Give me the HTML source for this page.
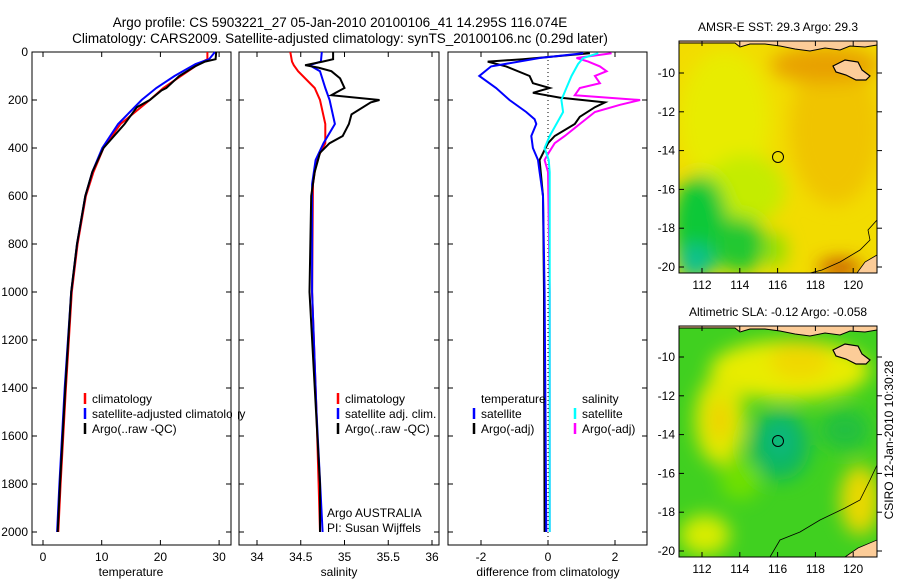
<!DOCTYPE html>
<html><head><meta charset="utf-8">
<style>
html,body{margin:0;padding:0;background:#fff;}
svg{display:block;font-family:"Liberation Sans",sans-serif;}
</style></head>
<body>
<svg id="fig" width="900" height="580" viewBox="0 0 900 580" xmlns="http://www.w3.org/2000/svg">
<defs>
<filter id="blur6" x="-50%" y="-50%" width="200%" height="200%"><feGaussianBlur stdDeviation="9"/></filter>
<clipPath id="clipMap1"><rect x="679" y="41" width="198" height="232"/></clipPath>
<clipPath id="clipMap2"><rect x="679" y="326" width="198" height="231"/></clipPath>
</defs>
<text x="340" y="27" font-size="13.5" text-anchor="middle">Argo profile: CS 5903221_27 05-Jan-2010 20100106_41 14.295S 116.074E</text>
<text x="340" y="43" font-size="13.5" text-anchor="middle">Climatology: CARS2009. Satellite-adjusted climatology: synTS_20100106.nc (0.29d later)</text>

<!-- map 1 -->
<g>
<g clip-path="url(#clipMap1)">
<rect x="679" y="41" width="198" height="232" fill="#f2dc00"/>
<g filter="url(#blur6)">
<ellipse cx="725" cy="120" rx="45" ry="70" fill="#e8ec00"/>
<ellipse cx="835" cy="130" rx="45" ry="75" fill="#f0c400"/>
<ellipse cx="825" cy="65" rx="55" ry="18" fill="#e8a000"/>
<ellipse cx="745" cy="190" rx="40" ry="35" fill="#c4ec00"/>
<ellipse cx="700" cy="225" rx="28" ry="50" fill="#10c838"/>
<ellipse cx="740" cy="245" rx="25" ry="28" fill="#20c830"/>
<ellipse cx="695" cy="262" rx="18" ry="18" fill="#10c090"/>
<ellipse cx="775" cy="250" rx="12" ry="18" fill="#90e000"/>
<ellipse cx="840" cy="268" rx="22" ry="8" fill="#c04000"/>
</g>
<path d="M679,41 L877,41 L877,45 L865,47 L850,46 L840,50 L825,48 L810,51 L795,49 L780,46 L765,44 L750,44 L740,47 L735,43 L679,43Z" fill="#fccc98" stroke="#000" stroke-width="1"/>
<path d="M833,66 L845,60 L858,62 L862,70 L870,76 L866,80 L856,80 L846,75 L836,72Z" fill="#fccc98" stroke="#000" stroke-width="1.2"/>
<path d="M877,220 L868,230 L870,240 L860,250 L840,262 L822,270 L810,273" fill="none" stroke="#000" stroke-width="0.8"/>
<path d="M857,273 L865,262 L877,255 L877,273Z" fill="#fccc98" stroke="#000" stroke-width="0.8"/>
</g>
<rect x="679" y="41" width="198" height="232" fill="none" stroke="#000" stroke-width="1"/>
<circle cx="778" cy="157" r="5.5" fill="none" stroke="#000" stroke-width="1"/>
<text x="778" y="31" font-size="12" text-anchor="middle">AMSR-E SST: 29.3 Argo: 29.3</text>
<g id="map1ticks"></g>
</g>

<!-- map 2 -->
<g>
<g clip-path="url(#clipMap2)">
<rect x="679" y="326" width="198" height="231" fill="#40d020"/>
<g filter="url(#blur6)">
<ellipse cx="790" cy="370" rx="80" ry="30" fill="#e8ec00"/>
<ellipse cx="800" cy="360" rx="30" ry="20" fill="#f0d800"/>
<ellipse cx="720" cy="420" rx="25" ry="45" fill="#e0e800"/>
<ellipse cx="720" cy="420" rx="10" ry="20" fill="#f0d000"/>
<ellipse cx="860" cy="500" rx="20" ry="35" fill="#e8d800"/>
<ellipse cx="705" cy="535" rx="25" ry="20" fill="#d8ec00"/>
<ellipse cx="780" cy="445" rx="30" ry="35" fill="#10b860"/>
<ellipse cx="780" cy="440" rx="12" ry="18" fill="#10b880"/>
<ellipse cx="845" cy="430" rx="25" ry="20" fill="#20c040"/>
<ellipse cx="740" cy="480" rx="20" ry="20" fill="#70e000"/>
</g>
<path d="M679,326 L877,326 L877,330 L865,332 L850,331 L840,335 L825,333 L810,336 L795,334 L780,331 L765,329 L750,329 L740,332 L735,328 L679,328Z" fill="#fccc98" stroke="#000" stroke-width="1"/>
<path d="M833,350 L845,344 L858,346 L862,354 L870,360 L866,364 L856,364 L846,359 L836,356Z" fill="#fccc98" stroke="#000" stroke-width="1.2"/>
<path d="M877,465 L870,480 L860,500 L845,508 L820,520 L800,532 L780,540 L770,557" fill="none" stroke="#000" stroke-width="0.8"/>
<path d="M845,557 L858,548 L877,540 L877,557Z" fill="#fccc98" stroke="#000" stroke-width="0.8"/>
</g>
<rect x="679" y="326" width="198" height="231" fill="none" stroke="#000" stroke-width="1"/>
<circle cx="778" cy="441" r="5.5" fill="none" stroke="#000" stroke-width="1"/>
<text x="778" y="316" font-size="12" text-anchor="middle">Altimetric SLA: -0.12 Argo: -0.058</text>
<g id="map2ticks"></g>
</g>
<text transform="translate(893,440) rotate(-90)" font-size="12" text-anchor="middle">CSIRO 12-Jan-2010 10:30:28</text>

<g id="panels"></g>
</svg>
<script>
// ---- data ----
var depthTicks=[0,200,400,600,800,1000,1200,1400,1600,1800,2000];
var tempTicks=[0,10,20,30];
var salTicks=[34,34.5,35,35.5,36];
var salTickLabels=["34","34.5","35","35.5","36"];
var diffTicks=[-2,0,2];
var tempClimDepth=[0,30,50,100,150,200,300,400,500,600,800,1000,1400,1800,2000];
var tempClim=[28,28,26.5,23.5,20.5,18.2,13.2,10.3,8.6,7.3,5.9,4.9,3.9,3.0,2.6];
var tempSatDepth=[0,30,50,100,150,200,300,400,500,600,800,1000,1400,1800,2000];
var tempSat=[29.3,28.3,26,22.4,19.3,16.8,12.8,10.1,8.4,7.2,5.8,4.8,3.7,2.8,2.4];
var tempArgoDepth=[0,30,40,60,100,150,160,200,230,300,400,500,600,800,1000,1400,1800,2000];
var tempArgo=[29.5,29.4,27.6,25.9,23.2,21,20.2,18.2,16,13.9,10.3,8.4,7.2,5.8,4.8,3.8,2.9,2.5];
var salDepth=[0,40,55,80,150,200,300,380,450,550,1000,1500,2000];
var salClim=[34.38,34.40,34.42,34.47,34.66,34.72,34.78,34.78,34.68,34.64,34.63,34.68,34.72];
var salSat=[34.74,34.73,34.60,34.72,34.78,34.83,34.89,34.76,34.67,34.63,34.63,34.68,34.75];
var salArgoDepth=[0,30,40,55,65,80,110,150,170,180,200,210,260,300,350,380,420,500,600,1000,1800,2000];
var salArgo=[34.87,34.87,34.75,34.55,34.7,34.85,34.95,35.0,34.9,34.85,35.4,35.3,35.08,35.05,34.98,34.83,34.72,34.66,34.62,34.6,34.72,34.72];
var dTDepth=[5,25,60,100,150,200,250,280,300,350,400,450,500,600,1000,2000];
var dTSat=[1.05,-0.25,-1.7,-2.05,-1.55,-1.15,-0.65,-0.4,-0.35,-0.5,-0.45,-0.3,-0.25,-0.15,-0.1,-0.05];
var dTArgoDepth=[5,30,40,60,100,130,150,170,190,210,230,270,300,350,380,450,600,1000,2000];
var dTArgo=[1.25,-0.75,-1.8,-1.25,-0.55,-0.45,0.05,-0.45,0.35,1.7,1.4,0.95,0.8,0.2,0,-0.25,-0.15,-0.12,-0.1];
var dSDepth=[5,25,50,100,150,200,250,300,350,400,450,500,1000,2000];
var dSSat=[1.5,1.05,0.9,0.7,0.55,0.4,0.45,0.25,0.05,-0.1,0.02,0.05,0.05,0.05];
var dSArgoDepth=[5,25,40,60,80,100,130,150,180,200,220,250,300,350,380,420,450,500,1000,2000];
var dSArgo=[1.9,0.85,1.2,1.55,1.75,1.4,1.55,0.95,0.8,2.75,2.15,1.4,0.95,0.5,0.2,0.02,-0.1,0,0.05,0.05];
var lonTicks=[112,114,116,118,120];
var latTicks=[10,12,14,16,18,20];

// ---- scales ----
function yD(d){return 52+0.24*d;}
function xT(t){return 43+5.87*t;}
function xS(s){return 257+87.5*(s-34);}
function xDf(v){return 548+33.5*v;}
var NS="http://www.w3.org/2000/svg";
var root=document.getElementById('panels');
function mk(tag,attrs,parent){var e=document.createElementNS(NS,tag);for(var k in attrs)e.setAttribute(k,attrs[k]);(parent||root).appendChild(e);return e;}
function line(depths,vals,xf,color,w,name){
  var pts=depths.map(function(d,i){return xf(vals[i]).toFixed(1)+','+yD(d).toFixed(1);}).join(' ');
  var p=mk('polyline',{points:pts,fill:'none',stroke:color,'stroke-width':w});
  
  
}
function txt(x,y,s,anchor,size,name){
  var t=mk('text',{x:x,y:y,'font-size':size||12,'text-anchor':anchor||'start'});
  t.textContent=s;
  
  
  return t;
}
var panels=[[32,231],[239,439],[448,647]];
panels.forEach(function(p,pi){
  var r=mk('rect',{x:p[0],y:52,width:p[1]-p[0],height:493,fill:'none',stroke:'#000','stroke-width':1});
  
  
  depthTicks.forEach(function(d){
    mk('line',{x1:p[0],x2:p[0]+5,y1:yD(d),y2:yD(d),stroke:'#000'});
    mk('line',{x1:p[1],x2:p[1]-5,y1:yD(d),y2:yD(d),stroke:'#000'});
  });
});
depthTicks.forEach(function(d){txt(28,yD(d)+4,String(d),'end',12,'depth-tick-label');});
function xticks(ticks,labels,xf,name){
  ticks.forEach(function(v,i){var x=xf(v);
    mk('line',{x1:x,x2:x,y1:545,y2:540,stroke:'#000'});
    mk('line',{x1:x,x2:x,y1:52,y2:57,stroke:'#000'});
    txt(x,561,labels[i],'middle',12,name);});
}
xticks(tempTicks,tempTicks.map(String),xT,'temperature-tick-label');
xticks(salTicks,salTickLabels,xS,'salinity-tick-label');
xticks(diffTicks,diffTicks.map(String),xDf,'difference-tick-label');
txt(131,576,'temperature','middle',12,'temperature-axis-title');
txt(339,576,'salinity','middle',12,'salinity-axis-title');
txt(548,576,'difference from climatology','middle',12,'difference-axis-title');
var zl=mk('line',{x1:548,x2:548,y1:52,y2:545,stroke:'#000','stroke-dasharray':'1,3'});


line(tempClimDepth,tempClim,xT,'#ff0000',2,'temperature-climatology-line');
line(tempSatDepth,tempSat,xT,'#0000ff',2,'temperature-satellite-line');
line(tempArgoDepth,tempArgo,xT,'#000',2,'temperature-argo-line');
line(salDepth,salClim,xS,'#ff0000',2,'salinity-climatology-line');
line(salDepth,salSat,xS,'#0000ff',2,'salinity-satellite-line');
line(salArgoDepth,salArgo,xS,'#000',2,'salinity-argo-line');
line(dTArgoDepth,dTArgo,xDf,'#000',2,'temp-argo-diff-line');
line(dTDepth,dTSat,xDf,'#0000ff',2,'temp-satellite-diff-line');
line(dSArgoDepth,dSArgo,xDf,'#ff00ff',2,'salinity-argo-diff-line');
line(dSDepth,dSSat,xDf,'#00ffff',2,'salinity-satellite-diff-line');
function leg(x,y,color,label){
  mk('line',{x1:x,x2:x,y1:y-10,y2:y+1,stroke:color,'stroke-width':2.5});
  txt(x+7,y,label,'start',12,'legend-entry');
}
leg(85,403,'#ff0000','climatology');
leg(85,418,'#0000ff','satellite-adjusted climatology');
leg(85,433,'#000','Argo(..raw -QC)');
mk('rect',{x:232,y:410,width:6,height:14,fill:'#fff'});
leg(338,403,'#ff0000','climatology');
leg(338,418,'#0000ff','satellite adj. clim.');
leg(338,433,'#000','Argo(..raw -QC)');
txt(481,403,'temperature','start',12,'legend-temperature-heading');
txt(582,403,'salinity','start',12,'legend-salinity-heading');
leg(474,418,'#0000ff','satellite');
leg(474,433,'#000','Argo(-adj)');
leg(575,418,'#00ffff','satellite');
leg(575,433,'#ff00ff','Argo(-adj)');
txt(327,517,'Argo AUSTRALIA','start',12,'argo-australia-label');
txt(327,532,'PI: Susan Wijffels','start',12,'pi-label');
function mapTicks(gid,top,bottom,lat10y,latScale){
  var g=document.getElementById(gid);
  lonTicks.forEach(function(v){var x=702+18.9*(v-112);
    mk('line',{x1:x,x2:x,y1:bottom,y2:bottom-5,stroke:'#000'},g);
    mk('line',{x1:x,x2:x,y1:top,y2:top+5,stroke:'#000'},g);
    var t=txt(x,bottom+16,String(v),'middle',12,'longitude-tick-label');g.appendChild(t);});
  latTicks.forEach(function(v){var y=lat10y+latScale*(v-10);
    mk('line',{x1:679,x2:684,y1:y,y2:y,stroke:'#000'},g);
    mk('line',{x1:877,x2:882,y1:y,y2:y,stroke:'#000'},g);
    var t=txt(675,y+4,'-'+v,'end',12,'latitude-tick-label');g.appendChild(t);});
}
mapTicks('map1ticks',41,273,73,19.4);
mapTicks('map2ticks',326,557,357,19.4);
</script>
</body></html>
